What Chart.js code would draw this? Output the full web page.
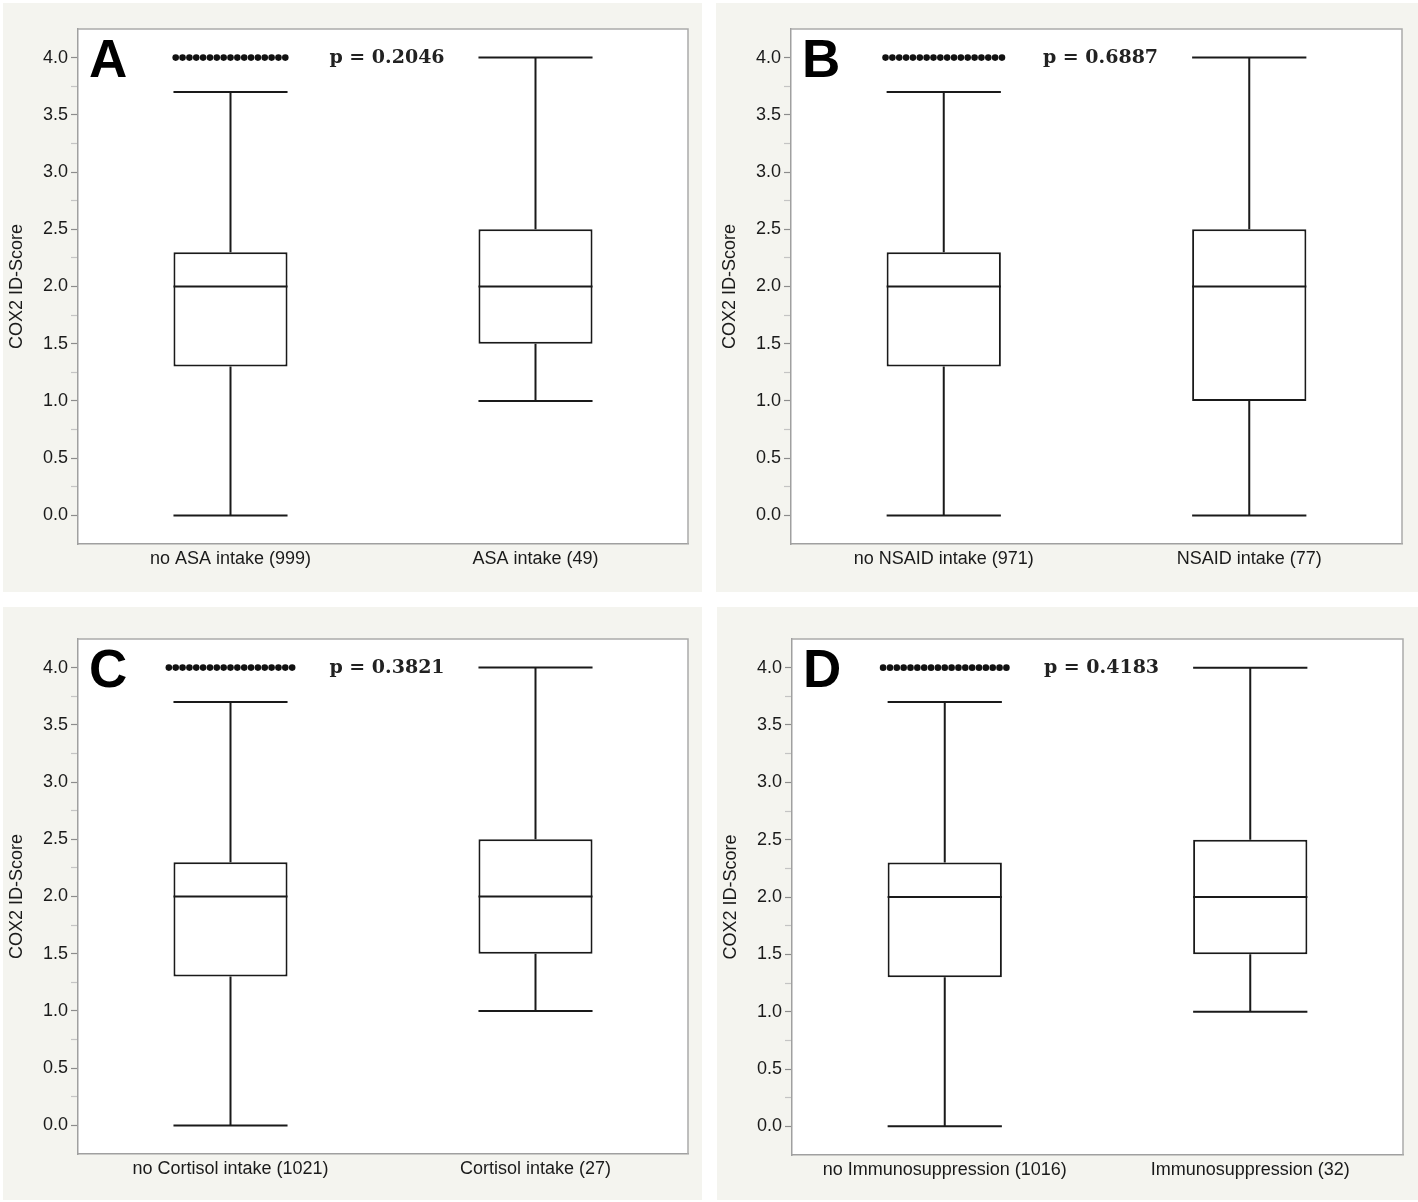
<!DOCTYPE html>
<html>
<head>
<meta charset="utf-8">
<script src="https://cdn.jsdelivr.net/npm/chart.js@4.4.1/dist/chart.umd.min.js"></script>
<style>
  body { margin: 0; background: #fff; width: 1418px; height: 1202px; position: relative; overflow: hidden; }
  .panel { position: absolute; background: #f4f4ef; }
  .panel canvas { display: block; }
</style>
</head>
<body>
<div class="panel" id="pA" style="left:3px;top:3px;width:699px;height:589px"><canvas id="cA" width="699" height="589"></canvas></div>
<div class="panel" id="pB" style="left:716px;top:3px;width:702px;height:589px"><canvas id="cB" width="702" height="589"></canvas></div>
<div class="panel" id="pC" style="left:3px;top:607px;width:699px;height:593px"><canvas id="cC" width="699" height="593"></canvas></div>
<div class="panel" id="pD" style="left:717px;top:607px;width:701px;height:593px"><canvas id="cD" width="701" height="593"></canvas></div>
<script>
// dati
var letters = ['A', 'B', 'C', 'D'];
var categorie = [
    ['no ASA intake (999)', 'ASA intake (49)'],
    ['no NSAID intake (971)', 'NSAID intake (77)'],
    ['no Cortisol intake (1021)', 'Cortisol intake (27)'],
    ['no Immunosuppression (1016)', 'Immunosuppression (32)']
];
var pValori = ['p = 0.2046', 'p = 0.6887', 'p = 0.3821', 'p = 0.4183'];
var baffoMin = [[0, 1], [0, 0], [0, 1], [0, 1]];
var q1 = [[1.3, 1.5], [1.3, 1.0], [1.3, 1.5], [1.3, 1.5]];
var mediana = [[2.0, 2.0], [2.0, 2.0], [2.0, 2.0], [2.0, 2.0]];
var q3 = [[2.3, 2.5], [2.3, 2.5], [2.3, 2.5], [2.3, 2.5]];
var baffoMax = [[3.7, 4.0], [3.7, 4.0], [3.7, 4.0], [3.7, 4.0]];
var outlierValore = [[4.0, null], [4.0, null], [4.0, null], [4.0, null]];
var outlierNumero = [[17, 0], [18, 0], [19, 0], [19, 0]];
var yMin = -0.25, yMax = 4.25, yStep = 0.25;
var yTitolo = 'COX2 ID-Score';

// impaginazione dei pannelli (solo layout)
var layoutPannelli = [
    { canvas: 'cA', top: 26, right: 14, xH: 48 },
    { canvas: 'cB', top: 26, right: 16, xH: 48 },
    { canvas: 'cC', top: 32, right: 14, xH: 46 },
    { canvas: 'cD', top: 32, right: 15, xH: 45 }
];

var lineColor = '#1a1a1a';

var boxExtras = {
    id: 'boxExtras',
    beforeDraw: function (chart) {
        var area = chart.chartArea;
        chart.ctx.save();
        chart.ctx.fillStyle = '#ffffff';
        chart.ctx.fillRect(area.left, area.top, area.right - area.left, area.bottom - area.top);
        chart.ctx.restore();
    },
    afterDatasetsDraw: function (chart, args, opts) {
        var k = opts.k;
        var ctx = chart.ctx;
        var y = chart.scales.y;
        var area = chart.chartArea;
        var meta = chart.getDatasetMeta(0);
        ctx.save();
        // bordo alto e destro
        ctx.strokeStyle = '#ababab';
        ctx.lineWidth = 1.5;
        ctx.beginPath();
        ctx.moveTo(area.left, area.top);
        ctx.lineTo(area.right, area.top);
        ctx.lineTo(area.right, area.bottom);
        ctx.stroke();

        ctx.strokeStyle = lineColor;
        ctx.lineWidth = 2;
        for (var i = 0; i < meta.data.length; i++) {
            var el = meta.data[i].getProps(['x', 'width'], true);
            var x = el.x, w = el.width;
            var pMed = y.getPixelForValue(mediana[k][i]);
            var pQ1 = y.getPixelForValue(q1[k][i]);
            var pQ3 = y.getPixelForValue(q3[k][i]);
            var pLo = y.getPixelForValue(baffoMin[k][i]);
            var pHi = y.getPixelForValue(baffoMax[k][i]);
            ctx.beginPath();
            ctx.moveTo(x - w / 2, pMed); ctx.lineTo(x + w / 2, pMed);
            ctx.moveTo(x, pQ3); ctx.lineTo(x, pHi);
            ctx.moveTo(x, pQ1); ctx.lineTo(x, pLo);
            ctx.moveTo(x - w / 2, pHi); ctx.lineTo(x + w / 2, pHi);
            ctx.moveTo(x - w / 2, pLo); ctx.lineTo(x + w / 2, pLo);
            ctx.stroke();
            // outlier
            var n = outlierNumero[k][i];
            if (n > 0) {
                var py = y.getPixelForValue(outlierValore[k][i]);
                ctx.fillStyle = '#111';
                for (var j = 0; j < n; j++) {
                    ctx.beginPath();
                    ctx.arc(x + (j - (n - 1) / 2) * 6.85, py, 3.3, 0, Math.PI * 2);
                    ctx.fill();
                }
            }
        }
        // lettera del pannello
        ctx.fillStyle = '#000';
        ctx.font = 'bold 53px "Liberation Sans", Arial, sans-serif';
        ctx.textAlign = 'left';
        ctx.textBaseline = 'alphabetic';
        ctx.fillText(letters[k], area.left + 11, area.top + 48);
        // p value
        var x0 = meta.data[0].x, x1 = meta.data[1].x;
        ctx.font = 'bold 19px "DejaVu Serif", serif';
        ctx.fillStyle = '#222';
        ctx.textAlign = 'center';
        ctx.textBaseline = 'middle';
        ctx.fillText(pValori[k], (x0 + x1) / 2 + 4, y.getPixelForValue(4.0));
        ctx.restore();
    }
};

function creaGrafico(k) {
    var lay = layoutPannelli[k];
    var boxes = [];
    for (var i = 0; i < categorie[k].length; i++) {
        boxes.push([q1[k][i], q3[k][i]]);
    }
    return new Chart(document.getElementById(lay.canvas), {
        type: 'bar',
        data: {
            labels: categorie[k],
            datasets: [{
                data: boxes,
                backgroundColor: '#ffffff',
                borderColor: lineColor,
                borderWidth: 2,
                borderSkipped: false,
                barPercentage: 0.374,
                categoryPercentage: 1
            }]
        },
        options: {
            responsive: false,
            animation: false,
            events: [],
            layout: { padding: { top: lay.top, right: lay.right, left: 0, bottom: 0 } },
            plugins: {
                legend: { display: false },
                tooltip: { enabled: false },
                boxExtras: { k: k }
            },
            scales: {
                x: {
                    grid: { display: false, drawTicks: false },
                    border: { color: '#a0a0a0', width: 1.5 },
                    ticks: {
                        color: '#1a1a1a',
                        padding: 4,
                        maxRotation: 0,
                        font: { family: '"Liberation Sans", Arial, sans-serif', size: 18 }
                    },
                    afterFit: function (scale) { scale.height = lay.xH; }
                },
                y: {
                    min: yMin,
                    max: yMax,
                    grid: {
                        drawOnChartArea: false,
                        drawTicks: true,
                        tickLength: 7,
                        tickWidth: 1.2,
                        tickColor: function (c) {
                            var v = c.tick ? c.tick.value : 0;
                            if (v < 0 || v > 4) return 'rgba(0,0,0,0)';
                            return Math.abs(v * 2 - Math.round(v * 2)) < 1e-9 ? '#8c8c8c' : '#c4c4c4';
                        }
                    },
                    border: { color: '#a0a0a0', width: 1.5 },
                    ticks: {
                        stepSize: yStep,
                        padding: 3,
                        autoSkip: false,
                        color: '#1a1a1a',
                        font: { family: '"Liberation Sans", Arial, sans-serif', size: 18 },
                        callback: function (v) {
                            if (v < 0 || v > 4) return '';
                            return Math.abs(v * 2 - Math.round(v * 2)) < 1e-9 ? v.toFixed(1) : '';
                        }
                    },
                    title: {
                        display: true,
                        text: yTitolo,
                        color: '#1a1a1a',
                        padding: { top: 3, bottom: 0 },
                        font: { family: '"Liberation Sans", Arial, sans-serif', size: 18 }
                    },
                    afterFit: function (scale) { scale.width = 75; }
                }
            }
        },
        plugins: [boxExtras]
    });
}

for (var k = 0; k < letters.length; k++) {
    creaGrafico(k);
}
</script>
</body>
</html>
